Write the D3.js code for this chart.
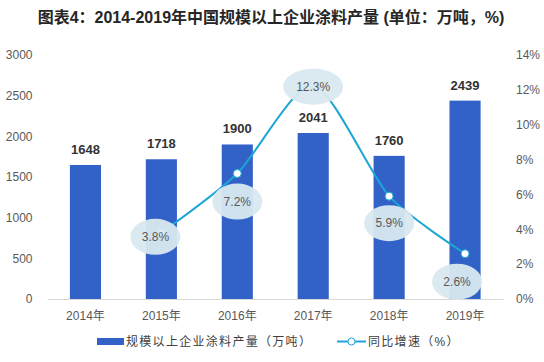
<!DOCTYPE html>
<html>
<head>
<meta charset="utf-8">
<script src="https://cdn.jsdelivr.net/npm/d3@7"></script>
<style>
  body { margin: 0; background: #fff; }
  text { font-family: "Liberation Sans", Arial, "Noto Sans CJK SC", sans-serif; }
</style>
</head>
<body>
<div id="chart"></div>
<script>
const years = ['2014年', '2015年', '2016年', '2017年', '2018年', '2019年']
const output = [1648, 1718, 1900, 2041, 1760, 2439]
const growth = [null, 3.8, 7.2, 12.3, 5.9, 2.6]
const leftTicks = [0, 500, 1000, 1500, 2000, 2500, 3000]
const rightTicks = [0, 2, 4, 6, 8, 10, 12, 14]

// chart dimensions
const W = 544, H = 362
const margin = { top: 55, right: 41, bottom: 63, left: 47.5 }
const width = W - margin.left - margin.right
const height = H - margin.top - margin.bottom

// label placement below/at each point (layout only)
const labelDy = [0, 4, 28, 2, 27, 28]
const labelDx = [0, -6, 0, 0, 0, -8]

const svg = d3.select('#chart')
  .append('svg')
  .attr('width', W)
  .attr('height', H)

svg.append('text')
  .attr('x', W / 2 - 1)
  .attr('y', 23)
  .attr('text-anchor', 'middle')
  .style('font-size', '16px')
  .style('font-weight', 'bold')
  .style('fill', '#262626')
  .text('图表4：2014-2019年中国规模以上企业涂料产量 (单位：万吨，%)')

const g = svg.append('g')
  .attr('transform', `translate(${margin.left}, ${margin.top})`)

const x = d3.scaleBand()
  .domain(years)
  .range([0, width])
  .paddingInner(0.59)
  .paddingOuter(0.295)

const yL = d3.scaleLinear().domain([0, 3000]).range([height, 0])
const yR = d3.scaleLinear().domain([0, 14]).range([height, 0])

// left axis
const axL = g.append('g')
  .call(d3.axisLeft(yL).tickValues(leftTicks).tickSize(0).tickPadding(15)
    .tickFormat(d3.format('d')))
axL.select('.domain').remove()
axL.selectAll('text').style('font-size', '12px').style('fill', '#595959')

// right axis
const axR = g.append('g')
  .attr('transform', `translate(${width}, 0)`)
  .call(d3.axisRight(yR).tickValues(rightTicks).tickSize(0).tickPadding(13)
    .tickFormat(d => d + '%'))
axR.select('.domain').remove()
axR.selectAll('text').style('font-size', '12px').style('fill', '#595959')

// x axis
const axX = g.append('g')
  .attr('transform', `translate(0, ${height})`)
  .call(d3.axisBottom(x).tickSize(0).tickPadding(12))
axX.select('.domain').attr('stroke', '#d9d9d9')
axX.selectAll('text').style('font-size', '12px').style('fill', '#595959')

// bars
g.selectAll('.bar')
  .data(output)
  .enter()
  .append('rect')
    .attr('class', 'bar')
    .attr('x', (d, i) => x(years[i]))
    .attr('width', x.bandwidth())
    .attr('y', d => yL(d))
    .attr('height', d => height - yL(d))
    .attr('fill', '#3262c8')

g.selectAll('.bar-label')
  .data(output)
  .enter()
  .append('text')
    .attr('x', (d, i) => x(years[i]) + x.bandwidth() / 2)
    .attr('y', d => yL(d) - 11)
    .attr('text-anchor', 'middle')
    .style('font-size', '13px')
    .style('font-weight', 'bold')
    .style('fill', '#333')
    .text(d => d)

// growth line
const pts = growth
  .map((v, i) => ({ v, i }))
  .filter(d => d.v !== null)

const line = d3.line()
  .x(d => x(years[d.i]) + x.bandwidth() / 2)
  .y(d => yR(d.v))
  .curve(d3.curveCardinal.tension(0.3))

g.append('path')
  .datum(pts)
  .attr('d', line)
  .attr('fill', 'none')
  .attr('stroke', '#1ba6d6')
  .attr('stroke-width', 2)

g.selectAll('.dot')
  .data(pts)
  .enter()
  .append('circle')
    .attr('cx', d => x(years[d.i]) + x.bandwidth() / 2)
    .attr('cy', d => yR(d.v))
    .attr('r', 4)
    .attr('fill', '#fff')
    .attr('stroke', '#1ba6d6')
    .attr('stroke-width', 1)

// label bubbles
const lab = g.selectAll('.glabel')
  .data(pts)
  .enter()
  .append('g')
    .attr('transform', d => `translate(${x(years[d.i]) + x.bandwidth() / 2 + labelDx[d.i]}, ${yR(d.v) + labelDy[d.i]})`)

lab.append('ellipse')
  .attr('rx', d => d.v >= 10 ? 30 : 25)
  .attr('ry', 18)
  .attr('fill', '#d9e9f0')
  .attr('fill-opacity', 0.95)

lab.append('text')
  .attr('text-anchor', 'middle')
  .attr('dy', '0.35em')
  .style('font-size', '12px')
  .style('fill', '#595959')
  .text(d => d.v.toFixed(1) + '%')

// legend
const leg = svg.append('g')
leg.append('rect')
  .attr('x', 97).attr('y', 338)
  .attr('width', 27).attr('height', 7)
  .attr('fill', '#3262c8')
leg.append('text')
  .attr('x', 126).attr('y', 346)
  .style('font-size', '12px')
  .style('letter-spacing', '1.3px')
  .style('fill', '#404040')
  .text('规模以上企业涂料产量（万吨）')

leg.append('line')
  .attr('x1', 337).attr('x2', 366)
  .attr('y1', 341.5).attr('y2', 341.5)
  .attr('stroke', '#1ba6d6')
  .attr('stroke-width', 2)
leg.append('circle')
  .attr('cx', 351.5).attr('cy', 341.5).attr('r', 3.5)
  .attr('fill', '#fff')
  .attr('stroke', '#1ba6d6')
leg.append('text')
  .attr('x', 368).attr('y', 346)
  .style('font-size', '12px')
  .style('letter-spacing', '1.3px')
  .style('fill', '#404040')
  .text('同比增速（%）')
</script>
</body>
</html>
